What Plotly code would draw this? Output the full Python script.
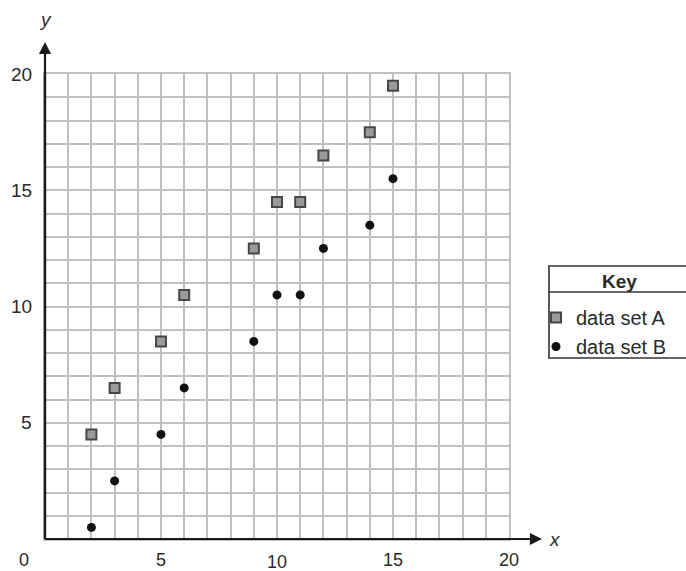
import plotly.graph_objects as go

# Data
x_values = [2, 3, 5, 6, 9, 10, 11, 12, 14, 15]
set_a_y = [4.5, 6.5, 8.5, 10.5, 12.5, 14.5, 14.5, 16.5, 17.5, 19.5]
set_b_y = [0.5, 2.5, 4.5, 6.5, 8.5, 10.5, 10.5, 12.5, 13.5, 15.5]
x_tick_vals = [0, 5, 10, 15, 20]
x_tick_text = ["0", "5", "10", "15", "20"]
y_tick_vals = [5, 10, 15, 20]
y_tick_text = ["5", "10", "15", "20"]

W, H = 686, 571
L, R, T, B = 45, 177, 74, 32
pw = W - L - R
ph = H - T - B

TXT = "#2a2a2a"
FONT = "Liberation Sans, Arial, sans-serif"
GRID = "#c0c0c0"


def px_x(p):
    return (p - L) / pw


def px_y(p):
    return (H - B - p) / ph


fig = go.Figure()
fig.add_trace(go.Scatter(
    x=x_values, y=set_a_y, mode="markers", name="data set A",
    marker=dict(symbol="square", size=10, color="#9a9a9a",
                line=dict(color="#474747", width=2)),
    cliponaxis=False,
))
fig.add_trace(go.Scatter(
    x=x_values, y=set_b_y, mode="markers", name="data set B",
    marker=dict(symbol="circle", size=9, color="#111111"),
    cliponaxis=False,
))

axis_common = dict(
    range=[0, 20], dtick=1, tick0=0, showgrid=True,
    gridcolor=GRID, gridwidth=1.8, zeroline=False,
    showticklabels=False, ticks="", fixedrange=True,
    showline=True, mirror=True, linecolor=GRID, linewidth=1.8,
)
fig.update_xaxes(**axis_common)
fig.update_yaxes(**axis_common)

annotations = []
# x tick labels
for v, t in zip(x_tick_vals, x_tick_text):
    xs = -21 if v == 0 else 0
    ys = -23 if v == 10 else -21
    annotations.append(dict(x=v, y=0, xref="x", yref="paper", text=t,
                            showarrow=False, xanchor="center", yanchor="middle",
                            xshift=xs, yshift=ys, borderpad=0,
                            font=dict(size=18, color=TXT, family=FONT)))
# y tick labels
for v, t in zip(y_tick_vals, y_tick_text):
    annotations.append(dict(x=0, y=v, xref="paper", yref="y", text=t,
                            showarrow=False, xanchor="right", yanchor="middle",
                            xshift=-11,
                            font=dict(size=19, color=TXT, family=FONT)))
# axis arrows
annotations.append(dict(x=px_x(542), y=0, xref="paper", yref="paper",
                        ax=-(542 - L), ay=0, axref="pixel", ayref="pixel",
                        text="", showarrow=True, arrowhead=2, arrowsize=1.1,
                        arrowwidth=2.2, arrowcolor="#1a1a1a", standoff=0))
annotations.append(dict(x=0, y=px_y(42), xref="paper", yref="paper",
                        ax=0, ay=(H - B - 42), axref="pixel", ayref="pixel",
                        text="", showarrow=True, arrowhead=2, arrowsize=1.1,
                        arrowwidth=2.2, arrowcolor="#1a1a1a", standoff=0))
# axis names
annotations.append(dict(x=px_x(555), y=0, xref="paper", yref="paper",
                        text="<i>x</i>", showarrow=False, xanchor="center",
                        yanchor="middle", font=dict(size=19, color=TXT, family=FONT)))
annotations.append(dict(x=0, y=px_y(20), xref="paper", yref="paper",
                        text="<i>y</i>", showarrow=False, xanchor="center",
                        yanchor="middle", font=dict(size=19, color=TXT, family=FONT)))
# key header
annotations.append(dict(x=px_x(619), y=px_y(281), xref="paper", yref="paper",
                        text="<b>Key</b>", showarrow=False, xanchor="center",
                        yanchor="middle", font=dict(size=19, color=TXT, family=FONT)))

shapes = [
    # key box
    dict(type="rect", xref="paper", yref="paper",
         x0=px_x(549), x1=px_x(720), y0=px_y(266), y1=px_y(358),
         line=dict(color="#333333", width=1.6), fillcolor="rgba(0,0,0,0)"),
    # key divider
    dict(type="line", xref="paper", yref="paper",
         x0=px_x(549), x1=px_x(720), y0=px_y(292), y1=px_y(292),
         line=dict(color="#333333", width=1.5)),
    # axis lines on top of grid
    dict(type="line", xref="paper", yref="paper", x0=0, x1=1, y0=0, y1=0,
         line=dict(color="#1a1a1a", width=2.2)),
    dict(type="line", xref="paper", yref="paper", x0=0, x1=0, y0=0, y1=1,
         line=dict(color="#1a1a1a", width=2.2)),
]

fig.update_layout(
    width=W, height=H,
    margin=dict(l=L, r=R, t=T, b=B, pad=0, autoexpand=False),
    paper_bgcolor="white", plot_bgcolor="white",
    font=dict(family=FONT, color=TXT, size=19),
    annotations=annotations,
    shapes=shapes,
    showlegend=True,
    legend=dict(
        xref="container", yref="container",
        x=536 / W, y=1 - 298 / H, xanchor="left", yanchor="top",
        borderwidth=0, bgcolor="rgba(0,0,0,0)",
        font=dict(size=20, color=TXT, family=FONT),
        itemwidth=30, tracegroupgap=0,
    ),
)

fig.write_html("out.html", config={"displayModeBar": False},
               post_script="document.body.style.margin='0';")
